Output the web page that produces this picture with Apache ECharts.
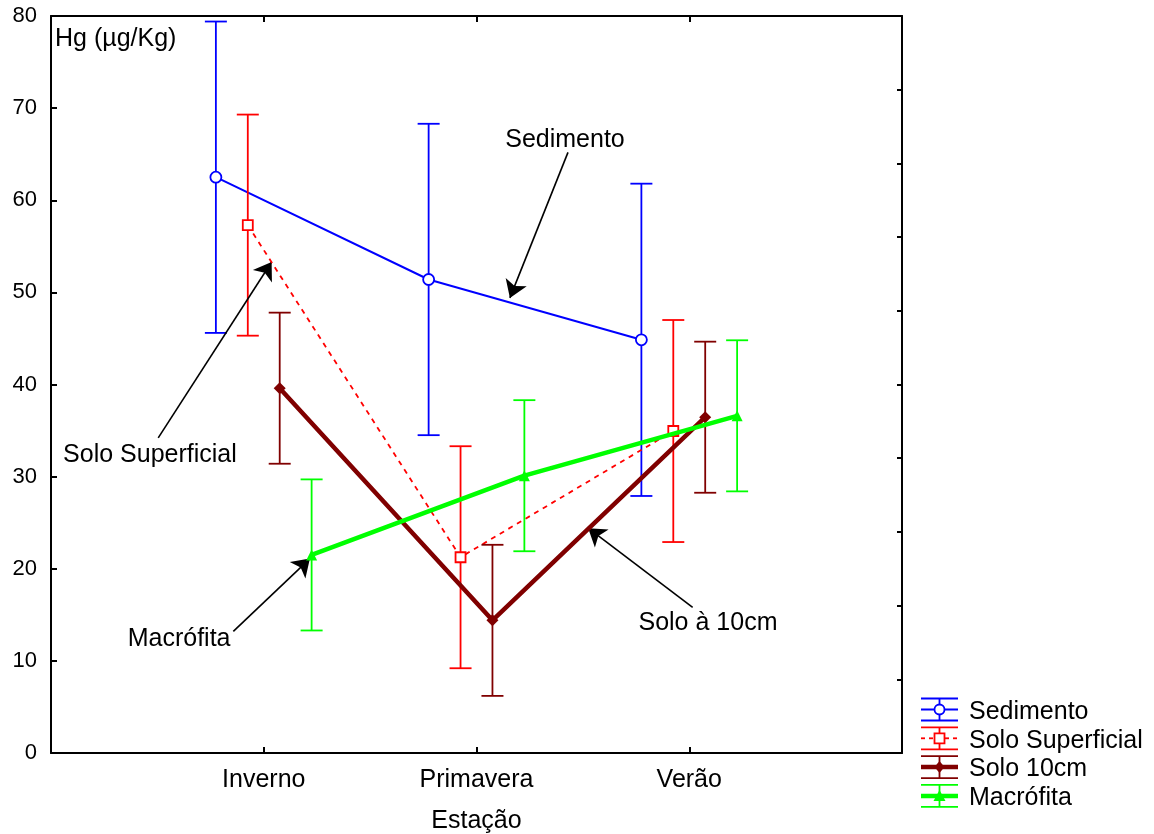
<!DOCTYPE html>
<html>
<head>
<meta charset="utf-8">
<title>Hg por estação</title>
<script src="https://cdn.jsdelivr.net/npm/echarts@6/dist/echarts.min.js"></script>
<style>
  html, body { margin: 0; padding: 0; background: #fff; }
  #chart { width: 1154px; height: 834px; }
</style>
</head>
<body>
<div id="chart"></div>
<script>
// Estações (eixo X) e nomes das séries
const estacoes = ['Inverno', 'Primavera', 'Verão'];
const nomesSeries = ['Sedimento', 'Solo Superficial', 'Solo 10cm', 'Macrófita'];

// Médias de Hg (µg/Kg) e semi-amplitude das barras de erro, por estação
const sedimentoMedia = [62.5, 51.4, 44.85];
const sedimentoErro = [16.9, 16.9, 16.95];
const soloSupMedia = [57.3, 21.25, 34.95];
const soloSupErro = [12.0, 12.05, 12.05];
const solo10Media = [39.6, 14.4, 36.45];
const solo10Erro = [8.2, 8.2, 8.2];
const macrofitaMedia = [21.5, 30.1, 36.6];
const macrofitaErro = [8.2, 8.2, 8.2];

// Rótulos das setas de anotação
const rotulosAnotacao = ['Sedimento', 'Solo Superficial', 'Solo à 10cm', 'Macrófita'];

const FONTE = "'Liberation Sans', Arial, sans-serif";
const TAM_TEXTO = 25;

// Estilo de cada série: deslocamento horizontal, cor, linha e símbolo
const estilos = [
  { media: sedimentoMedia, erro: sedimentoErro, desloc: -0.225, cor: '#0000ff',
    largura: 2, tipo: 'solid', simbolo: 'circle', tam: 11, vazio: true },
  { media: soloSupMedia, erro: soloSupErro, desloc: -0.075, cor: '#ff0000',
    largura: 1.8, tipo: [5, 5], simbolo: 'rect', tam: 10, vazio: true },
  { media: solo10Media, erro: solo10Erro, desloc: 0.075, cor: '#800000',
    largura: 4.5, tipo: 'solid', simbolo: 'diamond', tam: 12, vazio: false },
  { media: macrofitaMedia, erro: macrofitaErro, desloc: 0.225, cor: '#00ff00',
    largura: 4.5, tipo: 'solid', simbolo: 'triangle', tam: 11, vazio: false }
];

// Setas de anotação em coordenadas de dados: centro do texto, início e ponta da seta
const anotacoes = [
  { texto: [2.416, 66.55], de: [2.43, 65.2], ate: [2.157, 49.4] },
  { texto: [0.465, 32.3], de: [0.504, 34.2], ate: [1.037, 53.3] },
  { texto: [3.088, 14.05], de: [3.016, 15.8], ate: [2.525, 24.4] },
  { texto: [0.602, 12.4], de: [0.857, 13.2], ate: [1.217, 21.1] }
];

function desenhaBarras(cor) {
  return function (params, api) {
    const x = api.value(0);
    const pLo = api.coord([x, api.value(1)]);
    const pHi = api.coord([x, api.value(2)]);
    const h = 11;
    const st = { stroke: cor, lineWidth: 1.8 };
    return {
      type: 'group',
      children: [
        { type: 'line', shape: { x1: pLo[0], y1: pLo[1], x2: pHi[0], y2: pHi[1] }, style: st },
        { type: 'line', shape: { x1: pHi[0] - h, y1: pHi[1], x2: pHi[0] + h, y2: pHi[1] }, style: st },
        { type: 'line', shape: { x1: pLo[0] - h, y1: pLo[1], x2: pLo[0] + h, y2: pLo[1] }, style: st }
      ]
    };
  };
}

const series = [];
estilos.forEach(function (e, k) {
  series.push({
    name: nomesSeries[k] + ' (erro)',
    type: 'custom',
    renderItem: desenhaBarras(e.cor),
    data: e.media.map(function (m, i) { return [i + 1 + e.desloc, m - e.erro[i], m + e.erro[i]]; }),
    encode: { x: 0, y: [1, 2] },
    z: 2 + k * 2,
    silent: true
  });
  const a = anotacoes[k];
  series.push({
    name: nomesSeries[k],
    type: 'line',
    data: e.media.map(function (m, i) { return [i + 1 + e.desloc, m]; }),
    symbol: e.simbolo,
    symbolSize: e.tam,
    showSymbol: true,
    z: 3 + k * 2,
    lineStyle: { color: e.cor, width: e.largura, type: e.tipo },
    itemStyle: e.vazio
      ? { color: '#ffffff', borderColor: e.cor, borderWidth: 1.8 }
      : { color: e.cor, borderColor: e.cor, borderWidth: 0 },
    emphasis: { disabled: true },
    silent: true,
    markLine: {
      silent: true,
      symbol: ['none', 'arrow'],
      symbolSize: 17,
      label: { show: false },
      lineStyle: { color: '#000', width: 1.6, type: 'solid' },
      emphasis: { disabled: true },
      data: [[{ coord: a.de }, { coord: a.ate }]]
    },
    markPoint: {
      silent: true,
      symbol: 'circle',
      symbolSize: 1,
      itemStyle: { color: 'rgba(0,0,0,0)' },
      label: {
        show: true, position: 'inside', formatter: '{b}',
        color: '#000', fontSize: TAM_TEXTO, fontFamily: FONTE
      },
      data: [{ name: rotulosAnotacao[k], coord: a.texto }]
    }
  });
});

// Legenda com o glifo de barra de erro de cada série
const legenda = [];
estilos.forEach(function (e, k) {
  const y0 = 709.5 + k * 28.8;
  const x0 = 921, x1 = 958, xc = 939.5, h = 11;
  const fino = { stroke: e.cor, lineWidth: 1.8 };
  legenda.push({ type: 'line', shape: { x1: x0, y1: y0 - h, x2: x1, y2: y0 - h }, style: fino });
  legenda.push({ type: 'line', shape: { x1: x0, y1: y0 + h, x2: x1, y2: y0 + h }, style: fino });
  legenda.push({ type: 'line', shape: { x1: xc, y1: y0 - h, x2: xc, y2: y0 + h }, style: fino });
  legenda.push({
    type: 'line', shape: { x1: x0, y1: y0, x2: x1, y2: y0 },
    style: { stroke: e.cor, lineWidth: e.largura, lineDash: Array.isArray(e.tipo) ? [4, 4] : null }
  });
  const r = 5;
  let simb;
  if (e.simbolo === 'circle') {
    simb = { type: 'circle', shape: { cx: xc, cy: y0, r: r }, style: { fill: '#fff', stroke: e.cor, lineWidth: 1.8 } };
  } else if (e.simbolo === 'rect') {
    simb = { type: 'rect', shape: { x: xc - r, y: y0 - r, width: 2 * r, height: 2 * r }, style: { fill: '#fff', stroke: e.cor, lineWidth: 1.8 } };
  } else if (e.simbolo === 'diamond') {
    simb = { type: 'polygon', shape: { points: [[xc, y0 - 6], [xc + 5, y0], [xc, y0 + 6], [xc - 5, y0]] }, style: { fill: e.cor } };
  } else {
    simb = { type: 'polygon', shape: { points: [[xc, y0 - 6], [xc + 6, y0 + 5], [xc - 6, y0 + 5]] }, style: { fill: e.cor } };
  }
  legenda.push(simb);
  legenda.push({
    type: 'text', x: 969, y: y0 + 2.5,
    style: { text: nomesSeries[k], fill: '#000', fontSize: TAM_TEXTO, fontFamily: FONTE, verticalAlign: 'middle', align: 'left' }
  });
});

const eixoX = {
  type: 'value', min: 0, max: 4, interval: 1,
  axisLine: { show: true, onZero: false, lineStyle: { color: '#000', width: 2 } },
  axisTick: { show: true, inside: true, length: 6, lineStyle: { color: '#000', width: 2 } },
  splitLine: { show: false }
};

const option = {
  animation: false,
  backgroundColor: '#ffffff',
  grid: { left: 51, right: 252, top: 16, bottom: 81, containLabel: false, outerBoundsMode: 'none' },
  xAxis: [
    Object.assign({}, eixoX, {
      position: 'bottom',
      name: 'Estação', nameLocation: 'middle', nameGap: 56,
      nameTextStyle: { color: '#000', fontSize: TAM_TEXTO, fontFamily: FONTE },
      axisLabel: {
        color: '#000', fontSize: TAM_TEXTO, fontFamily: FONTE, margin: 15,
        formatter: function (v) { return (v >= 1 && v <= 3) ? estacoes[v - 1] : ''; }
      }
    }),
    Object.assign({}, eixoX, { position: 'top', axisLabel: { show: false } })
  ],
  yAxis: [
    {
      type: 'value', min: 0, max: 80, interval: 10, position: 'left',
      axisLine: { show: true, onZero: false, lineStyle: { color: '#000', width: 2 } },
      axisTick: { show: true, inside: true, length: 6, lineStyle: { color: '#000', width: 2 } },
      axisLabel: { color: '#000', fontSize: 22, fontFamily: FONTE, margin: 14 },
      splitLine: { show: false }
    },
    {
      type: 'value', min: 0, max: 80, interval: 8, position: 'right',
      axisLine: { show: true, onZero: false, lineStyle: { color: '#000', width: 2 } },
      axisTick: { show: true, inside: true, length: 5, lineStyle: { color: '#000', width: 2 } },
      axisLabel: { show: false },
      splitLine: { show: false }
    }
  ],
  graphic: [
    {
      type: 'text', x: 55, y: 39,
      style: { text: 'Hg (µg/Kg)', fill: '#000', fontSize: TAM_TEXTO, fontFamily: FONTE, verticalAlign: 'middle' }
    },
    { type: 'group', children: legenda }
  ],
  series: series
};

const chart = echarts.init(document.getElementById('chart'), null, { renderer: 'canvas' });
chart.setOption(option);
</script>
</body>
</html>
